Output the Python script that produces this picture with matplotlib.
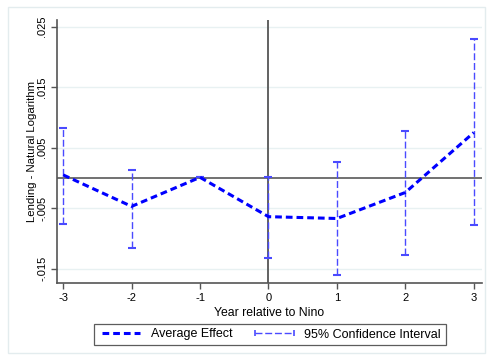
import matplotlib
matplotlib.use("Agg")
import matplotlib.pyplot as plt
from matplotlib.lines import Line2D
from matplotlib.patches import Rectangle
import numpy as np

plt.rcParams['font.family'] = ['Liberation Sans', 'DejaVu Sans']

years = [-3, -2, -1, 0, 1, 2, 3]
effect = [0.0005, -0.0047, 0.0001, -0.0064, -0.0067, -0.0024, 0.0075]
ci_upper = [0.0083, 0.0013, 0.0001, 0.0002, 0.0026, 0.0077, 0.0230]
ci_lower = [-0.0076, -0.0116, 0.0001, -0.0132, -0.0161, -0.0127, -0.0078]
yticks = [-0.015, -0.005, 0.005, 0.015, 0.025]
ytick_labels = ["-.015", "-.005", ".005", ".015", ".025"]
xlabel = "Year relative to Nino"
ylabel = "Lending - Natural Logarithm"

line_blue = "#0000ff"
ci_blue = "#4a4aff"
axis_gray = "#555555"

fig = plt.figure(figsize=(4.87, 3.55), dpi=100)
fig.patch.set_facecolor("white")
fig.add_artist(Rectangle((8/487, 2/355), 477/487, 346/355, transform=fig.transFigure,
                         fill=False, edgecolor="#e3ecee", linewidth=1.0))

ax = fig.add_axes([57/487, 1-283/355, 425/487, 263/355])
ax.set_xlim(-3.09, 3.12)
ax.set_ylim(-0.01736, 0.0261)

for v in yticks:
    ax.axhline(v, color="#e8f1f2", linewidth=1.0, zorder=0)

ax.axhline(0, color="#666666", linewidth=1.3, zorder=1)
ax.axvline(0, color="#555555", linewidth=1.3, zorder=1)

eff = np.array(effect)
up = np.array(ci_upper)
lo = np.array(ci_lower)
eb = ax.errorbar(years, eff, yerr=[eff - lo, up - eff], fmt='none', ecolor=ci_blue,
                 elinewidth=1.0, capsize=3, capthick=1.5, zorder=2)
eb[2][0].set_linestyle((0, (5, 2)))

ax.plot(years, effect, color=line_blue, linewidth=2.2, linestyle=(0, (2.2, 1.3)), zorder=3)

ax.set_xticks(years)
ax.set_xticklabels([str(y) for y in years], fontsize=8)
ax.set_yticks(yticks)
ax.set_yticklabels(ytick_labels, fontsize=8, rotation=90, va='center')
ax.tick_params(axis='both', direction='out', length=4, width=1, color=axis_gray, pad=3)

for s in ['top', 'right']:
    ax.spines[s].set_visible(False)
for s in ['left', 'bottom']:
    ax.spines[s].set_color(axis_gray)
    ax.spines[s].set_linewidth(1.2)

ax.set_xlabel(xlabel, fontsize=8.8, labelpad=3)
ax.set_ylabel(ylabel, fontsize=8.2, labelpad=0.5)

h1 = Line2D([], [], color=line_blue, linewidth=2.2, linestyle=(0, (2.2, 1.3)))
h2 = Line2D([], [], color=ci_blue, linewidth=1.0, linestyle=(0, (5, 2)),
            marker='|', markersize=5, markeredgewidth=1.2)
leg = fig.legend([h1, h2], ["Average Effect", "95% Confidence Interval"],
                 loc='center', bbox_to_anchor=((92+447)/2/487, 1-334.5/355),
                 ncol=2, fontsize=9, frameon=True, fancybox=False,
                 handlelength=3.7, numpoints=2, columnspacing=1.5,
                 borderpad=0.35, handletextpad=0.55)
leg.get_frame().set_edgecolor("#333333")
leg.get_frame().set_linewidth(0.9)

fig.savefig("out.png", dpi=100, facecolor="white")
